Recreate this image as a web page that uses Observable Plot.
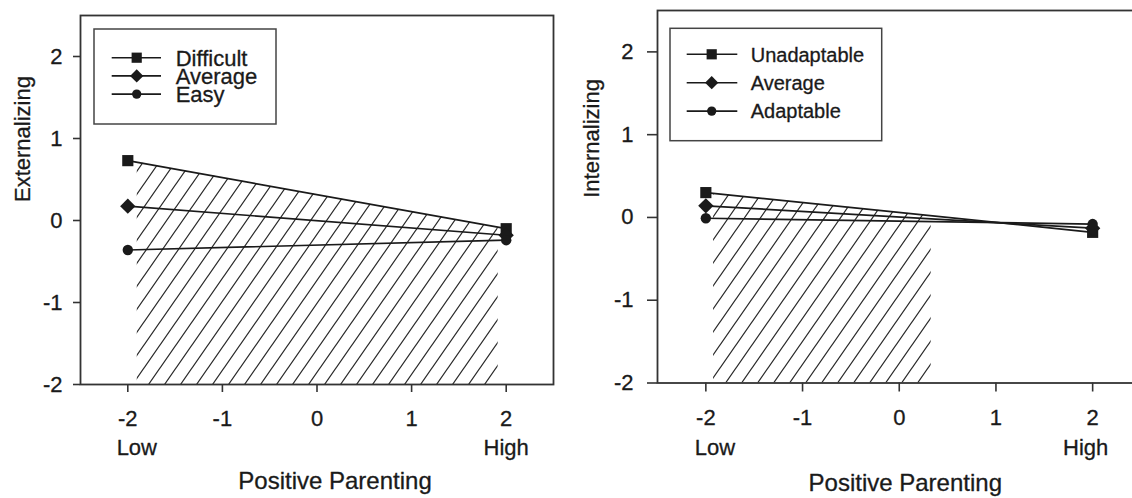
<!DOCTYPE html>
<html><head><meta charset="utf-8">
<script src="https://cdn.jsdelivr.net/npm/d3@7"></script>
<script src="https://cdn.jsdelivr.net/npm/@observablehq/plot@0.6"></script>
<style>
html,body{margin:0;padding:0;background:#fff;overflow:hidden;width:1132px;height:498px;}
#wrap{position:relative;width:1132px;height:498px;overflow:hidden;background:#fff;}
.panel{position:absolute;top:0;}
.panel svg{max-width:none !important;}
</style></head>
<body><div id="wrap"><div id="left" class="panel" style="left:0;width:560px"></div><div id="right" class="panel" style="left:560px;width:590px"></div></div>
<script>
// ---- data ----
const xValues = [-2, 2];
const xTicks = [-2, -1, 0, 1, 2];
const yTicks = [-2, -1, 0, 1, 2];
const xEndLabels = ["Low", "High"];
const xTitle = "Positive Parenting";

const leftSeries = ["Difficult", "Average", "Easy"];
const leftValues = [[0.73, -0.10], [0.175, -0.18], [-0.36, -0.24]];
const leftYTitle = "Externalizing";
const leftRegion = [-1.9, 1.915];

const rightSeries = ["Unadaptable", "Average", "Adaptable"];
const rightValues = [[0.30, -0.18], [0.14, -0.13], [-0.01, -0.08]];
const rightYTitle = "Internalizing";
const rightRegion = [-1.92, 0.33];

const symbolNames = ["square", "diamond2", "circle"];

// ---- styling ----
const FONT = "'Liberation Sans', Arial, Helvetica, sans-serif";
const INK = "#1a1a1a";
const TS = 0.3; // faux weight for text
const dotR = [6.3, 6.9, 5.2];
const d3Sym = [d3.symbolSquare, d3.symbolDiamond2 || d3.symbolDiamond, d3.symbolCircle];
const legendSize = [104, 112, 68];

function panel(cfg) {
  const rows = cfg.series.flatMap((s, i) => xValues.map((x, j) => ({series: s, idx: i, x, y: cfg.values[i][j]})));
  const top = cfg.values[0];
  const interp = x => top[0] + (x - xValues[0]) / (xValues[1] - xValues[0]) * (top[1] - top[0]);
  const hatch = cfg.region.map(x => ({x, y: interp(x)}));
  const yMin = yTicks[0];
  const ends = xValues.map((x, i) => ({x, label: xEndLabels[i]}));
  const L = cfg.legend;

  const defs = () => {
    const W = 16, H = 23;
    const g = d3.create("svg:g");
    const p = g.append("defs").append("pattern")
      .attr("id", cfg.id).attr("patternUnits", "userSpaceOnUse")
      .attr("width", W).attr("height", H);
    p.append("path")
      .attr("d", `M0,${H}L${W},0M${-W / 4},${H / 4}L${W / 4},${-H / 4}M${W * 3 / 4},${H * 5 / 4}L${W * 5 / 4},${H * 3 / 4}`)
      .attr("stroke", "#2a2a2a").attr("stroke-width", 1.25).attr("fill", "none");
    return g.node();
  };

  const legend = () => {
    const g = d3.create("svg:g")
      .attr("style", `font-family:${FONT};font-size:${L.fontSize}px;`)
      .attr("text-anchor", "start").attr("fill", INK);
    g.append("rect").attr("x", L.x).attr("y", L.y).attr("width", L.w).attr("height", L.h)
      .attr("fill", "#fff").attr("stroke", "#444").attr("stroke-width", 1.5);
    cfg.series.forEach((s, i) => {
      const y = L.y0 + i * L.step;
      g.append("line").attr("x1", L.lx1).attr("x2", L.lx2).attr("y1", y).attr("y2", y)
        .attr("stroke", INK).attr("stroke-width", 1.6);
      g.append("path").attr("d", d3.symbol(d3Sym[i], legendSize[i])())
        .attr("transform", `translate(${L.mx},${y})`).attr("fill", INK);
      g.append("text").attr("x", L.tx).attr("y", y).attr("dy", "0.36em")
        .attr("text-anchor", "start")
        .attr("stroke", INK).attr("stroke-width", TS).attr("paint-order", "stroke")
        .text(s);
    });
    return g.node();
  };

  const txt = {fill: INK, stroke: INK, strokeWidth: TS};

  return Plot.plot({
    width: cfg.width, height: 498,
    marginLeft: cfg.ml, marginRight: cfg.mr, marginTop: cfg.mt, marginBottom: cfg.mb,
    style: {fontFamily: FONT, color: INK, background: "transparent", overflow: "visible", maxWidth: "none"},
    x: {domain: [-2.5, 2.5]},
    y: {domain: [-2, 2.5]},
    marks: [
      defs,
      Plot.areaY(hatch, {x: "x", y1: yMin, y2: "y", fill: `url(#${cfg.id})`}),
      Plot.line(rows, {x: "x", y: "y", z: "series", stroke: INK, strokeWidth: 1.7}),
      ...symbolNames.map((sym, i) => Plot.dot(rows.filter(d => d.idx === i),
        {x: "x", y: "y", symbol: sym, r: dotR[i], fill: INK, stroke: "none"})),
      Plot.axisY({ticks: yTicks, tickSize: cfg.yTick, tickPadding: cfg.yPad, fontSize: 22, label: null, tickFormat: d => String(d), stroke: "#333", strokeWidth: 1.6, textStroke: INK, textStrokeWidth: TS}),
      Plot.axisX({ticks: xTicks, tickSize: cfg.xTick, tickPadding: cfg.xPad, fontSize: 22, label: null, tickFormat: d => String(d), stroke: "#333", strokeWidth: 1.6, textStroke: INK, textStrokeWidth: TS}),
      Plot.text([ends[0]], {x: "x", text: "label", frameAnchor: "bottom", dy: cfg.endDy, dx: cfg.lowDx, fontSize: 22, ...txt}),
      Plot.text([ends[1]], {x: "x", text: "label", frameAnchor: "bottom", dy: cfg.endDy, dx: cfg.highDx, fontSize: 22, ...txt}),
      Plot.text([xTitle], {frameAnchor: "bottom", dy: cfg.titleDy, dx: cfg.titleDx, fontSize: 24, ...txt}),
      Plot.text([cfg.yTitle], {frameAnchor: "left", rotate: -90, dx: cfg.yTitleDx, dy: cfg.yTitleDy, fontSize: 22, ...txt}),
      legend,
      Plot.frame({stroke: "#333", strokeWidth: 1.8})
    ]
  });
}

document.getElementById("left").append(panel({
  id: "hatchL", width: 560, ml: 80, mr: 7, mt: 15, mb: 114,
  series: leftSeries, values: leftValues, region: leftRegion, yTitle: leftYTitle,
  yTick: 7, yPad: 11, xTick: 8, xPad: 18, endDy: 70, lowDx: 9, highDx: 0,
  titleDy: 104.5, titleDx: 18, yTitleDx: -58, yTitleDy: 2,
  legend: {x: 94, y: 29, w: 182, h: 95, y0: 57.7, step: 18.2, lx1: 111.7, lx2: 161, mx: 136.7, tx: 175.7, fontSize: 22}
}));

document.getElementById("right").append(panel({
  id: "hatchR", width: 590, ml: 97, mr: 9.5, mt: 10, mb: 115.5,
  series: rightSeries, values: rightValues, region: rightRegion, yTitle: rightYTitle,
  yTick: 10, yPad: 14, xTick: 9, xPad: 17, endDy: 71.5, lowDx: 9, highDx: -7,
  titleDy: 108, titleDx: 6, yTitleDx: -66, yTitleDy: 1,
  legend: {x: 110, y: 28.3, w: 211.7, h: 112.4, y0: 54.3, step: 28.4, lx1: 126.7, lx2: 177.3, mx: 151.7, tx: 190.7, fontSize: 20}
}));
</script>
</body></html>
